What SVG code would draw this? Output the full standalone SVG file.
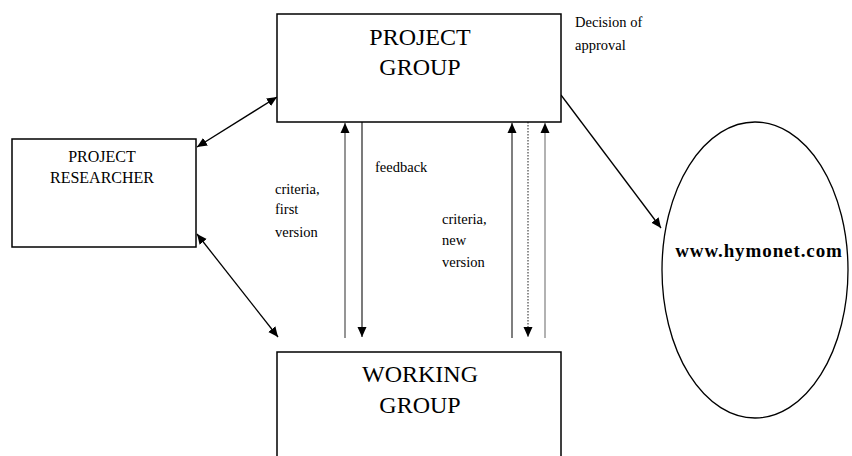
<svg xmlns="http://www.w3.org/2000/svg" width="852" height="456" viewBox="0 0 852 456">
<defs>
<marker id="ah" viewBox="0 0 10 10" refX="10" refY="5" markerWidth="10" markerHeight="10" markerUnits="userSpaceOnUse" orient="auto-start-reverse">
<path d="M0,0.5 L10,5 L0,9.5 Z" fill="#000"/>
</marker>
</defs>
<style>
.box{fill:#fff;stroke:#000;stroke-width:1.5}
.t{font-family:"Liberation Serif","Times New Roman",serif;fill:#000}
.big{font-size:24px;text-anchor:middle}
.mid{font-size:16px;text-anchor:middle}
.lbl{font-size:14.5px}
.c{fill:none;stroke:#000;stroke-width:1.3}
</style>
<rect width="852" height="456" fill="#fff"/>
<g id="connectors">
<line class="c" x1="197" y1="147" x2="277" y2="97" marker-start="url(#ah)" marker-end="url(#ah)"/>
<line class="c" x1="197" y1="234" x2="278" y2="337" marker-start="url(#ah)" marker-end="url(#ah)"/>
<line class="c" x1="561" y1="95" x2="661" y2="228" marker-end="url(#ah)"/>
<line class="c" x1="345" y1="338" x2="345" y2="123" style="stroke:#8a8a8a;stroke-width:1.8" marker-end="url(#ah)"/>
<line class="c" x1="362" y1="122" x2="362" y2="337" style="stroke:#333" marker-end="url(#ah)"/>
<line class="c" x1="512" y1="338" x2="512" y2="123" style="stroke:#555;stroke-width:1.5" marker-end="url(#ah)"/>
<line class="c" x1="528" y1="122" x2="528" y2="337" style="stroke:#555;stroke-dasharray:1.5 1.5" marker-end="url(#ah)"/>
<line class="c" x1="545" y1="338" x2="545" y2="123" style="stroke:#aaa;stroke-width:1.8" marker-end="url(#ah)"/>
<text class="t lbl" x="275" y="194">criteria,</text>
<text class="t lbl" x="275" y="214">first</text>
<text class="t lbl" x="275" y="237">version</text>
<text class="t lbl" x="375" y="172">feedback</text>
<text class="t lbl" x="442" y="224">criteria,</text>
<text class="t lbl" x="442" y="245">new</text>
<text class="t lbl" x="442" y="267">version</text>
<text class="t lbl" x="575" y="27">Decision of</text>
<text class="t lbl" x="575" y="50">approval</text>
</g>
<g id="project-group">
<rect class="box" x="277" y="14" width="284" height="108"/>
<text class="t big" x="420" y="45">PROJECT</text>
<text class="t big" x="420" y="75">GROUP</text>
</g>
<g id="project-researcher">
<rect class="box" x="12" y="139" width="184" height="108"/>
<text class="t mid" x="102" y="162">PROJECT</text>
<text class="t mid" x="102" y="183">RESEARCHER</text>
</g>
<g id="working-group">
<rect class="box" x="277" y="352" width="284" height="110"/>
<text class="t big" x="420" y="382">WORKING</text>
<text class="t big" x="420" y="413">GROUP</text>
</g>
<g id="website">
<ellipse cx="755" cy="270" rx="93" ry="148" fill="#fff" stroke="#000" stroke-width="1.3"/>
<text class="t" x="759" y="257" font-size="19" font-weight="bold" text-anchor="middle" letter-spacing="0.9">www.hymonet.com</text>
</g>
</svg>
